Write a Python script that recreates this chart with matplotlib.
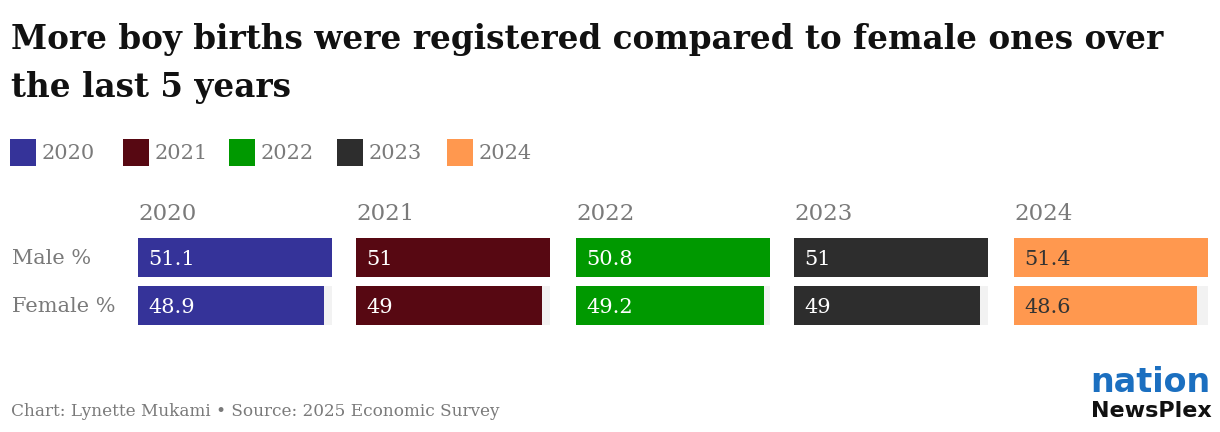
import matplotlib.pyplot as plt
from matplotlib.patches import Rectangle

years = ["2020", "2021", "2022", "2023", "2024"]
male = [51.1, 51, 50.8, 51, 51.4]
female = [48.9, 49, 49.2, 49, 48.6]
rows = ["Male %", "Female %"]
colors = ["#353399", "#570812", "#009900", "#2d2d2d", "#ff984f"]
label_colors = ["white", "white", "white", "white", "#333333"]

W, H = 1220, 432
fig = plt.figure(figsize=(W / 100, H / 100), dpi=100)
fig.patch.set_facecolor("white")

serif = ["DejaVu Serif"]
grey = "#7a7a7a"


def px(x, y):
    return x / W, 1 - y / H


# title
fig.text(*px(11, 40), "More boy births were registered compared to female ones over",
         fontsize=23.5, fontweight="bold", family=serif, va="center", color="#111111")
fig.text(*px(11, 88), "the last 5 years",
         fontsize=23.5, fontweight="bold", family=serif, va="center", color="#111111")

# legend
lx = [10, 123, 229, 337, 447]
for x, yr, c in zip(lx, years, colors):
    fig.patches.append(Rectangle(px(x, 166), 26 / W, 27 / H, transform=fig.transFigure,
                                 color=c, lw=0))
    fig.text(*px(x + 32, 153), yr, fontsize=15, family=serif, color=grey, va="center")

# panels
left = [138, 356, 576, 794, 1014]
pw = 194
top, bottom = 238, 325
for i, yr in enumerate(years):
    x0, y0 = px(left[i], bottom)
    ax = fig.add_axes([x0, y0, pw / W, (bottom - top) / H])
    vals = [male[i], female[i]]
    mx = max(vals)
    ypos = [1, 0]
    ax.barh(ypos, [mx, mx], height=0.81, color="#f2f2f2", left=0)
    ax.barh(ypos, vals, height=0.81, color=colors[i], left=0)
    for y, v in zip(ypos, vals):
        ax.text(mx * 0.055, y - 0.04, f"{v:g}", color=label_colors[i], fontsize=15,
                family=serif, va="center", ha="left")
    ax.set_xlim(0, mx)
    ax.set_ylim(-0.405, 1.405)
    ax.axis("off")
    fig.text(*px(left[i], 214), yr, fontsize=16.5, family=serif, color=grey, va="center")

fig.text(*px(12, 258), rows[0], fontsize=15, family=serif, color=grey, va="center")
fig.text(*px(12, 306), rows[1], fontsize=15, family=serif, color=grey, va="center")

# footer
fig.text(*px(11, 411), "Chart: Lynette Mukami \u2022 Source: 2025 Economic Survey",
         fontsize=12.2, family=serif, color=grey, va="center")

# logo
fig.text(*px(1150, 383), "nation", fontsize=24, fontweight="bold", family=["DejaVu Sans"],
         color="#1b6fc0", va="center", ha="center")
fig.text(*px(1151, 411), "NewsPlex", fontsize=16, fontweight="bold", family=["DejaVu Sans"],
         color="#111111", va="center", ha="center")

fig.savefig("out.png", dpi=100, facecolor="white")
